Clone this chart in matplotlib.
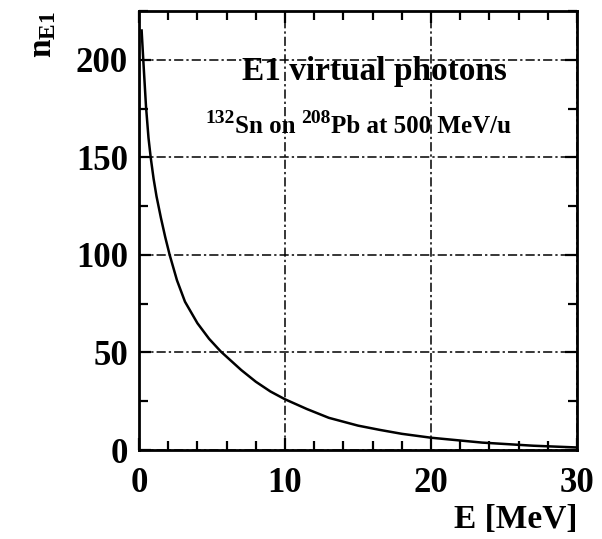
import matplotlib
matplotlib.use("Agg")
import matplotlib.pyplot as plt
from matplotlib.ticker import MultipleLocator

# E1 virtual photon number
energy = [0.18, 0.3, 0.48, 0.65, 0.8, 1.0, 1.2, 1.5, 1.8, 2.1, 2.6, 3.15, 4.0,
          4.8, 5.6, 7.0, 8.0, 9.0, 10.0, 11.5, 13.0, 15.0, 16.5, 18.0, 20.0,
          23.5, 27.0, 30.0]
n_e1 = [215, 199, 176, 160, 150, 139, 130, 119, 109, 100, 87, 76, 65,
        57, 50.5, 41, 35, 30, 26, 21, 16.5, 12.5, 10.3, 8.3, 6.3,
        3.8, 2.2, 1.3]

x_ticks = [0, 10, 20, 30]
y_ticks = [0, 50, 100, 150, 200]

plt.rcParams["font.family"] = ["Liberation Serif", "DejaVu Serif"]
plt.rcParams["font.weight"] = "bold"
plt.rcParams["mathtext.fontset"] = "custom"
plt.rcParams["mathtext.rm"] = "Liberation Serif:bold"
plt.rcParams["mathtext.default"] = "rm"

fig = plt.figure(figsize=(6.02, 5.39), dpi=100)
ax = fig.add_axes([0.2309, 0.1651, 0.9585 - 0.2309, 0.9796 - 0.1651])

ax.plot(energy, n_e1, color="black", lw=1.8)

ax.set_xlim(0, 30)
ax.set_ylim(0, 225)
ax.set_xticks(x_ticks)
ax.set_yticks(y_ticks)
ax.xaxis.set_minor_locator(MultipleLocator(2))
ax.yaxis.set_minor_locator(MultipleLocator(25))

ax.grid(True, which="major", color="black", lw=1.1, dashes=[6, 2, 1.5, 2])
ax.tick_params(which="both", direction="in", top=True, right=True,
               width=1.6, labelsize=25)
ax.tick_params(which="major", length=8.5)
ax.tick_params(which="minor", length=6.5)
ax.tick_params(axis="x", pad=12)
ax.tick_params(axis="y", pad=8)
for lab in ax.get_xticklabels() + ax.get_yticklabels():
    lab.set_fontweight("bold")
for sp in ax.spines.values():
    sp.set_linewidth(2)

ax.set_xlabel("E [MeV]", loc="right", fontsize=24, fontweight="bold", labelpad=3)
ax.set_ylabel(r"n$_{\rm E1}$", loc="top", fontsize=24, fontweight="bold", labelpad=13)

ax.text(0.537, 0.843, "E1 virtual photons", transform=ax.transAxes,
        ha="center", va="baseline", fontsize=24, fontweight="bold")

# reaction line: big superscripts, so built piece by piece
pieces = [("132", True), ("Sn on ", False), ("208", True), ("Pb at 500 MeV/u", False)]
prev = None
for s, sup in pieces:
    size = 14 if sup else 18
    dy = 8 if sup else 0
    if prev is None:
        prev = ax.annotate(s, xy=(0.151, 0.72), xycoords="axes fraction",
                           xytext=(0, dy), textcoords="offset points",
                           ha="left", va="baseline", fontsize=size, fontweight="bold")
    else:
        prev = ax.annotate(s, xy=(1, 0), xycoords=prev,
                           xytext=(0, dy - base_dy), textcoords="offset points",
                           ha="left", va="bottom", fontsize=size, fontweight="bold")
    base_dy = dy

fig.savefig("out.png", dpi=100)
